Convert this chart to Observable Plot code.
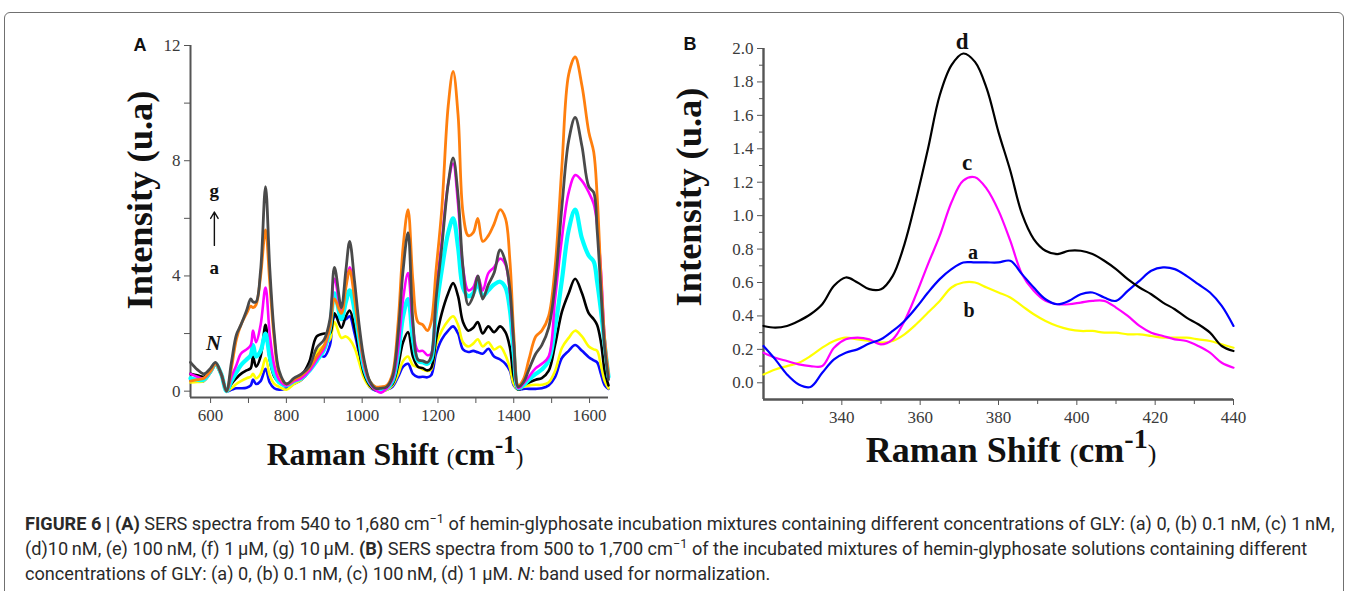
<!DOCTYPE html>
<html><head><meta charset="utf-8">
<script src="https://cdn.jsdelivr.net/npm/d3@7"></script>
<script src="https://cdn.jsdelivr.net/npm/@observablehq/plot@0.6"></script>
<style>
html,body{margin:0;padding:0;background:#fff;width:1348px;height:591px;overflow:hidden;position:relative;}
#frame{position:absolute;left:4px;top:12px;width:1338px;height:640px;border:1.5px solid #707070;border-radius:6px;}
.abs{position:absolute;}
#plotA{left:100px;top:20px;}
#plotB{left:680px;top:20px;}
.ytitle{position:absolute;font-family:"Liberation Serif",serif;font-weight:bold;white-space:nowrap;transform:translate(-50%,-50%) rotate(-90deg);color:#111;}
.xtitle{position:absolute;font-family:"Liberation Serif",serif;font-weight:bold;white-space:nowrap;transform:translate(-50%,-50%);color:#111;}
.xtitle .p{font-weight:normal;font-size:0.72em;}
.xtitle sup{font-size:0.78em;vertical-align:0.5em;line-height:0;}
.letter{position:absolute;font-family:"Liberation Sans",Arial,sans-serif;font-weight:bold;font-size:18px;color:#111;transform:translate(-50%,-50%);}
#caption{position:absolute;left:25px;top:511px;font-family:"Liberation Sans Narrow","Roboto",sans-serif;font-size:16px;line-height:25px;color:#2a2a2a;white-space:nowrap;}
#caption sup{font-size:0.7em;vertical-align:0.55em;line-height:0;}
svg text{font-family:"Liberation Serif",serif;}
</style></head>
<body>
<div id="frame"></div>
<div id="plotA" class="abs"></div>
<div id="plotB" class="abs"></div>
<div class="letter" style="left:140px;top:45px;">A</div>
<div class="letter" style="left:690px;top:44px;">B</div>
<div class="ytitle" style="left:139px;top:200px;font-size:36.5px;">Intensity (u.a)</div>
<div class="ytitle" style="left:688px;top:197px;font-size:36.5px;">Intensity (u.a)</div>
<div class="xtitle" style="left:395px;top:455px;font-size:31.8px;">Raman Shift <span class="p">(</span>cm<sup>-1</sup><span class="p">)</span></div>
<div class="xtitle" style="left:1011px;top:450px;font-size:36px;">Raman Shift <span class="p">(</span>cm<sup>-1</sup><span class="p">)</span></div>
<div id="caption">
<div id="cap1"><b>FIGURE 6 | (A)</b> SERS spectra from 540 to 1,680 cm<sup>−1</sup> of hemin-glyphosate incubation mixtures containing different concentrations of GLY: (a) 0, (b) 0.1&thinsp;nM, (c) 1&thinsp;nM,</div>
<div>(d)10&thinsp;nM, (e) 100&thinsp;nM, (f) 1&thinsp;μM, (g) 10&thinsp;μM. <b>(B)</b> SERS spectra from 500 to 1,700 cm<sup>−1</sup> of the incubated mixtures of hemin-glyphosate solutions containing different</div>
<div>concentrations of GLY: (a) 0, (b) 0.1&thinsp;nM, (c) 100&thinsp;nM, (d) 1&thinsp;μM. <i>N:</i> band used for normalization.</div>
</div>
<script>
// ---------- Panel A data (Raman shift, cm-1) ----------
const shiftA = [547,565,582,600,613,628,642,655,668,680,695,706,712,720,732,745,756,768,781,800,820,840,860,880,900,915,927,945,957,967,980,992,1005,1020,1035,1050,1065,1080,1095,1108,1121,1134,1147,1160,1172,1182,1195,1210,1227,1240,1253,1266,1280,1293,1305,1318,1333,1348,1364,1378,1390,1400,1412,1425,1440,1458,1474,1492,1509,1527,1545,1562,1580,1598,1611,1620,1630,1640,1650];
const seriesA_a = [0.4,0.35,0.35,0.65,0.9,0.55,0.0,0.05,0.1,0.1, 0.12,0.2,0.4,0.25,0.35,0.78,0.3,0.1,0.05,0.1, 0.25,0.4,0.7,1.3,1.2,1.6,2.6,2.5,2.5,2.6, 2.0,1.3,0.6,0.15,0.02,0.0,0.05,0.15,0.5,0.85, 0.95,0.6,0.49,0.5,0.48,0.55,1.3,1.8,2.1,2.25, 2.0,1.45,1.36,1.4,1.35,1.3,1.47,1.2,1.1,0.95, 0.7,0.2,0.05,0.08,0.08,0.08,0.1,0.2,0.49,1.15, 1.4,1.6,1.4,1.18,1.07,1.0,0.6,0.2,0.08];
const seriesA_b = [0.3,0.32,0.35,0.65,0.9,0.55,0.0,0.1,0.25,0.35, 0.45,0.5,0.6,0.45,0.6,1.15,0.55,0.25,0.15,0.05, 0.25,0.4,0.75,1.35,1.6,1.8,2.4,1.85,1.9,1.8, 1.5,1.0,0.45,0.15,0.05,0.0,0.05,0.2,0.6,1.05, 1.2,0.9,0.84,0.75,0.7,0.75,1.6,2.1,2.45,2.6, 2.3,1.7,1.55,1.65,1.8,1.55,1.7,1.45,1.55,1.25, 0.8,0.25,0.05,0.15,0.2,0.22,0.22,0.3,0.7,1.5, 1.85,2.1,1.9,1.55,1.45,1.4,0.9,0.35,0.1];
const seriesA_c = [0.6,0.55,0.5,0.7,0.95,0.6,0.0,0.25,0.45,0.6, 0.72,0.8,1.2,0.85,1.2,2.3,1.1,0.5,0.3,0.2, 0.35,0.55,1.0,1.9,2.0,2.0,2.7,2.2,2.6,2.8, 2.2,1.4,0.6,0.2,0.05,0.05,0.1,0.25,0.9,1.7, 2.05,1.2,0.85,0.8,0.72,0.8,1.8,2.7,3.4,3.75, 3.3,2.4,2.1,2.2,2.4,2.0,2.25,2.05,2.25,2.05, 1.5,0.5,0.05,0.2,0.3,0.4,0.45,0.7,1.6,2.75, 3.4,3.9,3.4,2.7,2.5,2.3,1.7,0.7,0.2];
const seriesA_d = [0.45,0.4,0.4,0.7,0.95,0.6,0.0,0.35,0.65,0.9, 1.1,1.25,1.6,1.2,1.4,2.0,1.2,0.6,0.3,0.2, 0.35,0.45,0.7,1.05,1.45,2.2,3.4,2.5,3.1,3.5, 2.8,1.8,0.8,0.3,0.1,0.05,0.1,0.35,1.3,2.6, 3.2,1.8,1.05,1.0,0.95,1.1,2.8,4.2,5.5,6.0, 5.0,3.6,3.3,3.4,3.75,3.3,3.5,3.7,3.8,3.6, 2.8,1.3,0.1,0.2,0.4,0.6,0.75,1.05,2.2,3.85, 5.6,6.3,5.3,4.7,4.5,3.8,2.8,1.6,0.5];
const seriesA_e = [0.6,0.5,0.45,0.7,0.95,0.6,0.0,0.5,0.9,1.3, 1.45,1.6,2.1,1.7,2.3,3.6,2.0,0.9,0.4,0.2, 0.35,0.45,0.7,1.1,1.5,2.3,3.9,2.8,3.7,4.3, 3.4,2.1,0.9,0.3,0.05,-0.05,0.1,0.4,1.5,3.2, 4.1,2.2,1.4,1.4,1.25,1.3,3.4,5.2,7.2,7.9, 6.5,4.3,3.5,3.6,4.0,3.5,4.1,4.3,4.6,4.4, 3.4,1.6,0.1,0.25,0.5,0.8,0.95,1.2,3.2,5.3, 6.9,7.5,7.3,6.9,6.5,5.8,4.2,1.8,0.5];
const seriesA_f = [1.0,0.75,0.6,0.8,1.0,0.6,0.0,1.0,1.95,2.3, 2.8,3.2,3.1,3.1,4.2,7.1,4.3,2.0,0.7,0.25, 0.45,0.6,0.85,1.5,1.8,2.5,4.3,2.9,4.2,5.2, 3.8,2.3,1.1,0.35,0.1,0.1,0.15,0.5,2.0,4.2, 5.5,2.4,1.1,1.05,1.0,1.2,3.2,5.0,7.2,8.1, 6.8,4.3,3.0,3.3,4.0,3.2,3.7,4.1,4.9,4.5, 3.5,1.7,0.15,0.3,0.75,1.3,1.6,2.2,3.7,6.4, 8.7,9.5,8.5,7.1,6.9,5.6,3.5,1.5,0.4];
const seriesA_g = [0.35,0.4,0.45,0.7,0.95,0.6,0.0,0.8,1.8,2.3, 2.7,2.95,2.9,3.0,4.0,5.6,3.8,1.8,0.6,0.25, 0.4,0.55,0.8,1.2,1.6,2.2,3.2,2.7,3.6,4.2, 3.2,2.0,1.0,0.35,0.15,0.15,0.2,0.6,2.4,5.0, 6.3,3.8,2.4,2.3,2.1,2.4,4.2,6.3,9.9,11.1, 9.6,6.2,5.4,5.5,6.0,5.2,5.4,5.8,6.3,6.0, 4.5,2.0,0.2,0.4,1.1,1.9,2.1,2.6,4.3,7.8, 11.0,11.6,10.6,9.0,8.3,6.8,4.0,1.8,0.6];
const ticksA_x = [600,800,1000,1200,1400,1600];
const minorA_x = [700,900,1100,1300,1500];
const ticksA_y = [0,4,8,12];
const minorA_y = [2,6,10];
const labelsA = [{text:"N", x:608, y:1.66, italic:true},{text:"g", x:610, y:6.95},{text:"a", x:610, y:4.29}];
const arrowA = [{x:610, y1:5.06, y2:6.22}];

// ---------- Panel B data ----------
const shiftB = [320,323,326,329,332,335,338,341,344,347,350,353,356,359,362,365,368,371,374,377,380,383,386,389,392,395,398,401,404,407,410,413,416,419,422,425,428,431,434,437,440];
const seriesB_a = [0.22,0.14,0.05,-0.01,-0.025,0.06,0.14,0.18,0.20,0.235, 0.26,0.31,0.37,0.45,0.54,0.62,0.68,0.72,0.72,0.72, 0.72,0.73,0.65,0.57,0.50,0.47,0.49,0.53,0.54,0.51, 0.49,0.55,0.61,0.67,0.69,0.68,0.64,0.59,0.54,0.46, 0.34];
const seriesB_b = [0.05,0.08,0.10,0.12,0.16,0.21,0.25,0.27,0.26,0.25, 0.24,0.25,0.29,0.35,0.42,0.49,0.57,0.60,0.60,0.57, 0.54,0.51,0.46,0.41,0.37,0.34,0.32,0.31,0.31,0.30, 0.30,0.29,0.29,0.28,0.27,0.27,0.27,0.26,0.25,0.23, 0.21];
const seriesB_c = [0.18,0.15,0.13,0.11,0.10,0.10,0.21,0.26,0.27,0.26, 0.23,0.26,0.37,0.53,0.71,0.88,1.08,1.21,1.23,1.16, 1.03,0.85,0.65,0.55,0.49,0.47,0.47,0.48,0.49,0.49, 0.45,0.40,0.34,0.30,0.28,0.26,0.25,0.22,0.18,0.12, 0.09];
const seriesB_d = [0.34,0.33,0.34,0.37,0.41,0.47,0.58,0.63,0.60,0.56, 0.56,0.64,0.83,1.10,1.40,1.72,1.90,1.97,1.92,1.76, 1.50,1.27,1.01,0.86,0.79,0.77,0.79,0.79,0.77,0.73, 0.68,0.62,0.57,0.53,0.48,0.44,0.39,0.35,0.30,0.22, 0.19];
const ticksB_x = [340,360,380,400,420,440];
const minorB_x = [330,350,370,390,410,430];
const ticksB_y = [0,0.2,0.4,0.6,0.8,1.0,1.2,1.4,1.6,1.8,2.0];
const minorB_y = [0.1,0.3,0.5,0.7,0.9,1.1,1.3,1.5,1.7,1.9];
const labelsB = [{text:"d", x:370.7, y:2.04, serif:true},{text:"c", x:372, y:1.32, serif:true},{text:"a", x:373.5, y:0.78},{text:"b", x:372.5, y:0.43}];

// ---------- styles ----------
const styleA = [
  {name:"a", values:seriesA_a, color:"#0a0aff", width:2.6},
  {name:"b", values:seriesA_b, color:"#ffff00", width:2.6},
  {name:"c", values:seriesA_c, color:"#000000", width:2.6},
  {name:"d", values:seriesA_d, color:"#00ffff", width:4.2},
  {name:"e", values:seriesA_e, color:"#ff00ff", width:2.6},
  {name:"g", values:seriesA_g, color:"#ff7f0e", width:2.8},
  {name:"f", values:seriesA_f, color:"#4a4a4a", width:2.8}
];
const styleB = [
  {name:"b", values:seriesB_b, color:"#ffff00", width:2.2},
  {name:"c", values:seriesB_c, color:"#ff00ff", width:2.2},
  {name:"a", values:seriesB_a, color:"#0000ff", width:2.2},
  {name:"d", values:seriesB_d, color:"#000000", width:2.2}
];

function rows(xs, s) { return xs.map((x, i) => ({x, y: s.values[i]})); }
const axisColor = "#555";
const serif = "'Liberation Serif', 'Times New Roman', serif";
const svgStyle = {fontFamily: serif, fontSize:"17px", color:"#3a3a3a", background:"transparent", overflow:"visible"};

const yDomA = [-0.22, 12], xDomA = [547, 1650];
const plotA = Plot.plot({
  width: 530, height: 470, marginLeft: 90, marginRight: 22, marginTop: 25, marginBottom: 93,
  x: {domain: xDomA}, y: {domain: yDomA},
  style: svgStyle,
  marks: [
    Plot.axisX({ticks: ticksA_x, tickSize: 6, tickPadding: 5, tickFormat: d3.format("d"), label: null, stroke: axisColor, fontFamily: serif, fontSize: 17}),
    Plot.axisX({ticks: minorA_x, tickSize: 6, tickFormat: () => "", label: null, stroke: axisColor}),
    Plot.axisY({ticks: ticksA_y, tickSize: 6, tickPadding: 4, tickFormat: d3.format("d"), label: null, stroke: axisColor, fontFamily: serif, fontSize: 17}),
    Plot.axisY({ticks: minorA_y, tickSize: 6, tickFormat: () => "", label: null, stroke: axisColor}),
    Plot.ruleX([xDomA[0]], {stroke: axisColor, strokeWidth: 2}),
    Plot.ruleY([yDomA[0]], {stroke: axisColor, strokeWidth: 2}),
    ...styleA.map(s => Plot.line(rows(shiftA, s), {x: "x", y: "y", stroke: s.color, strokeWidth: s.width, curve: "catmull-rom"})),
    Plot.text(labelsA.filter(d => d.italic), {x: "x", y: "y", text: "text", fontSize: 21, fontWeight: "bold", fontStyle: "italic", fontFamily: serif, fill: "#111"}),
    Plot.text(labelsA.filter(d => !d.italic), {x: "x", y: "y", text: "text", fontSize: 19, fontWeight: "bold", fontFamily: serif, fill: "#111"}),
    Plot.arrow(arrowA, {x1: "x", x2: "x", y1: "y1", y2: "y2", stroke: "#111", strokeWidth: 1.4, headLength: 8})
  ]
});
document.getElementById("plotA").appendChild(plotA);

const yDomB = [-0.1, 2.0], xDomB = [320, 440];
const plotB = Plot.plot({
  width: 600, height: 470, marginLeft: 83, marginRight: 47, marginTop: 28, marginBottom: 91,
  x: {domain: xDomB}, y: {domain: yDomB},
  style: svgStyle,
  marks: [
    Plot.axisX({ticks: ticksB_x, tickSize: 6, tickPadding: 5, tickFormat: d3.format("d"), label: null, stroke: axisColor, fontFamily: serif, fontSize: 17}),
    Plot.axisX({ticks: minorB_x, tickSize: 5, tickFormat: () => "", label: null, stroke: axisColor}),
    Plot.axisY({ticks: ticksB_y, tickSize: 6, tickPadding: 4, tickFormat: d3.format(".1f"), label: null, stroke: axisColor, fontFamily: serif, fontSize: 17}),
    Plot.axisY({ticks: minorB_y, tickSize: 4, tickFormat: () => "", label: null, stroke: axisColor}),
    Plot.ruleX([xDomB[0]], {stroke: axisColor, strokeWidth: 2.4}),
    Plot.ruleY([yDomB[0]], {stroke: axisColor, strokeWidth: 2.4}),
    ...styleB.map(s => Plot.line(rows(shiftB, s), {x: "x", y: "y", stroke: s.color, strokeWidth: s.width, curve: "catmull-rom"})),
    Plot.text(labelsB.filter(d => d.serif), {x: "x", y: "y", text: "text", fontSize: 23, fontWeight: "bold", fontFamily: serif, fill: "#111"}),
    Plot.text(labelsB.filter(d => !d.serif), {x: "x", y: "y", text: "text", fontSize: 20, fontWeight: "bold", fontFamily: "'Liberation Sans', Arial, sans-serif", fill: "#111"})
  ]
});
document.getElementById("plotB").appendChild(plotB);

// fit caption first line to the reference width
const cap = document.getElementById("caption");
const w = document.getElementById("cap1").getBoundingClientRect().width;
const target = 1310;
const fs = 16 * target / w;
cap.style.fontSize = fs.toFixed(2) + "px";
</script>
</body></html>
